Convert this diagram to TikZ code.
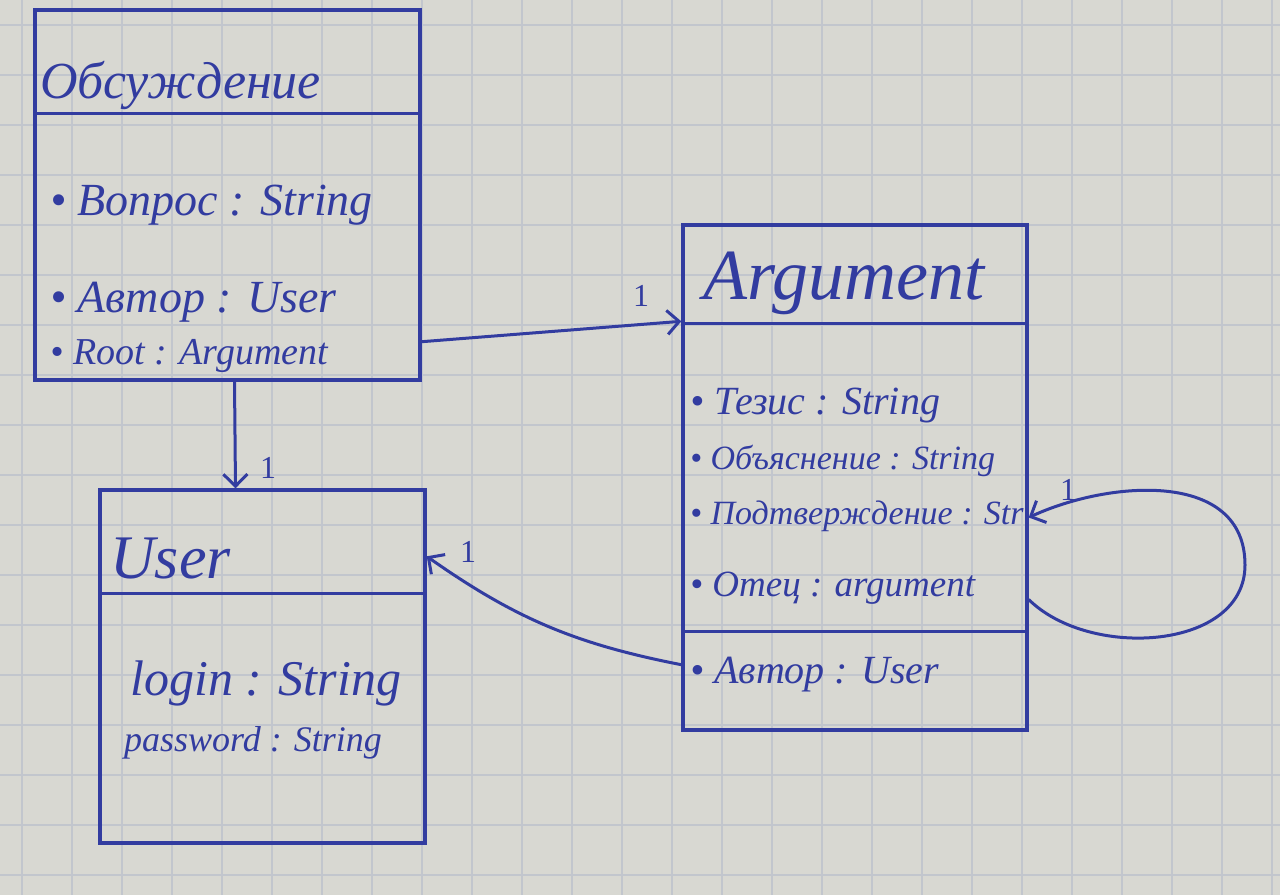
\documentclass[tikz,border=0pt]{standalone}
\usepackage{fontspec}
\setmainfont{Liberation Serif}
\usetikzlibrary{arrows.meta,calc}
\definecolor{ink}{RGB}{50,60,160}
\definecolor{paper}{RGB}{216,216,210}
\definecolor{gridc}{RGB}{194,198,205}
\begin{document}
\begin{tikzpicture}[x=1pt,y=-1pt,
  box/.style={draw=ink,line width=3.4pt,rectangle,inner sep=0pt},
  divline/.style={draw=ink,line width=3.4pt},
  title/.style={anchor=west,text=ink,font=\itshape\fontsize{54}{60}\selectfont,inner sep=0pt},
  attr/.style={anchor=west,text=ink,inner sep=0pt},
  conn/.style={draw=ink,line width=3pt,-{Straight Barb[length=12pt,width=24pt]}},
  mult/.style={text=ink,font=\fontsize{32}{34}\selectfont,inner sep=0pt}]
\fill[paper] (0,0) rectangle (1280,895);
\useasboundingbox (0,0) rectangle (1280,895);
% grid paper
\foreach \x in {22,72,...,1272} \draw[gridc,line width=1.2pt] (\x,0) -- (\x,895);
\foreach \y in {25,75,...,875} \draw[gridc,line width=1.2pt] (0,\y) -- (1280,\y);

% class boxes
\node[box,minimum width=385pt,minimum height=370pt] (b1) at (227.5,195) {};
\node[box,minimum width=344pt,minimum height=505pt] (b2) at (855,477.5) {};
\node[box,minimum width=325pt,minimum height=353pt] (b3) at (262.5,666.5) {};

% dividers
\draw[divline] ([yshift=-105pt]b1.north west) -- ([yshift=-105pt]b1.north east);
\draw[divline] ([yshift=-100pt]b2.north west) -- ([yshift=-100pt]b2.north east);
\draw[divline] ([yshift=100pt]b2.south west) -- ([yshift=100pt]b2.south east);
\draw[divline] ([yshift=-105pt]b3.north west) -- ([yshift=-105pt]b3.north east);

% Обсуждение
\node[title,font=\itshape\fontsize{52}{58}\selectfont] (t1) at (40,85) {Обсуждение};
\node[attr,font=\itshape\fontsize{46}{50}\selectfont] (a11) at (50,205) {• Вопрос : String};
\node[attr,font=\itshape\fontsize{46}{50}\selectfont] (a12) at (50,302) {• Автор : User};
\node[attr,font=\itshape\fontsize{38}{42}\selectfont] (a13) at (50,356) {• Root : Argument};

% Argument
\node[title,font=\itshape\fontsize{72}{76}\selectfont] (t2) at (703,283) {Argument};
\node[attr,font=\itshape\fontsize{40}{44}\selectfont] (a21) at (690,406) {• Тезис : String};
\node[attr,font=\itshape\fontsize{34}{38}\selectfont] (a22) at (690,461) {• Объяснение : String};
\node[attr,font=\itshape\fontsize{34}{38}\selectfont] (a23) at (690,516) {• Подтверждение : Str};
\node[attr,font=\itshape\fontsize{37}{40}\selectfont] (a24) at (690,588) {• Отец : argument};
\node[attr,font=\itshape\fontsize{40}{44}\selectfont] (a25) at (690,675) {• Автор : User};

% User
\node[title,font=\itshape\fontsize{62}{66}\selectfont] (t3) at (110,558) {User};
\node[attr,font=\itshape\fontsize{50}{54}\selectfont] (a31) at (130,683) {login : String};
\node[attr,font=\itshape\fontsize{36}{40}\selectfont] (a32) at (124,743) {password : String};

% connectors
\draw[conn] ([yshift=40pt]b1.south east) -- ([yshift=-98pt]b2.north west);
\draw[conn] ([xshift=7pt]b1.south) -- ([xshift=-27pt]b3.north);
\draw[conn] ([yshift=67pt]b2.south west) to[bend left=12] ([yshift=-68pt]b3.north east);
\draw[conn] ([yshift=-122pt]b2.east) .. controls (1090,660) and (1245,650) .. (1245,565)
   .. controls (1245,470) and (1110,480) .. ([yshift=-40pt]b2.east);

% multiplicities
\node[mult] (m1) at (641,296) {1};
\node[mult] (m2) at (268,468) {1};
\node[mult] (m3) at (468,552) {1};
\node[mult] (m4) at (1068,490) {1};
\end{tikzpicture}
\end{document}
